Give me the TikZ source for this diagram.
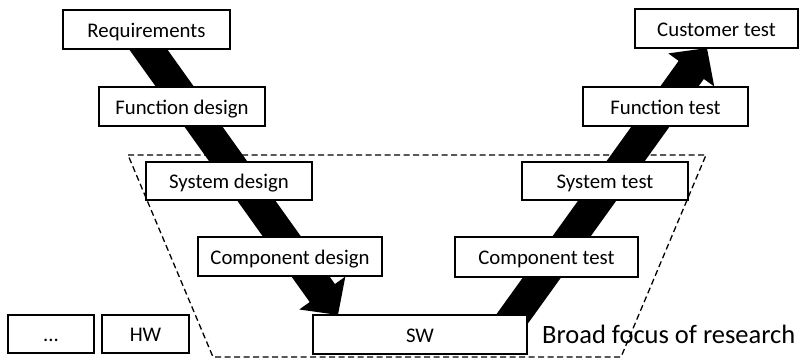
\documentclass[tikz,border=0pt]{standalone}
\usepackage{fontspec}
\setmainfont{Carlito}
\usetikzlibrary{arrows.meta}
\begin{document}
\begin{tikzpicture}[x=1pt,y=-1pt,
  stage/.style={draw, fill=white, line width=1.4pt, inner sep=0pt,
    font=\fontsize{20.8}{24}\selectfont, text height=15.5pt, text depth=0pt},
  flow/.style={line width=31pt, -{Triangle[length=27pt,width=55pt]}},
  focus/.style={dashed, dash pattern=on 6pt off 3.5pt, line width=1.3pt}]
\useasboundingbox (0,0) rectangle (799,359);

% end points of the two thick flow arrows
\coordinate (downstart) at (134.4,30);
\coordinate (downend) at (338,315);
\coordinate (upstart) at (501.3,334);
\coordinate (upend) at (707,48);

\draw[flow] (downstart) -- (downend);
\draw[flow] (upstart) -- (upend);

% design side
\node[stage, minimum width=167pt, minimum height=39pt] (req) at (146.5,29.5) {Requirements};
\node[stage, minimum width=166pt, minimum height=39pt] (fd) at (182,106.5) {Function design};
\node[stage, minimum width=166pt, minimum height=38pt] (sd) at (229,181) {System design};
\node[stage, minimum width=184pt, minimum height=39pt] (cd) at (290,256.5) {Component design};

% implementation
\node[stage, minimum width=214pt, minimum height=39pt] (sw) at (420,334.5) {SW};
\node[stage, minimum width=86pt, minimum height=38pt] (dots) at (51,334) {...};
\node[stage, minimum width=87pt, minimum height=38pt] (hw) at (145.5,334) {HW};

% test side
\node[stage, minimum width=163pt, minimum height=39pt] (ct) at (716.5,28.5) {Customer test};
\node[stage, minimum width=165pt, minimum height=39pt] (ft) at (665.5,106.5) {Function test};
\node[stage, minimum width=166pt, minimum height=38pt] (st) at (605,181) {System test};
\node[stage, minimum width=183pt, minimum height=40pt] (cpt) at (546.5,257) {Component test};

% region of interest
\coordinate (tl) at (128,155);
\coordinate (tr) at (706,155);
\coordinate (br) at (621,357);
\coordinate (bl) at (213,357);
\draw[focus] (tl) -- (tr) -- (br) -- (bl) -- cycle;

\node[anchor=base west, inner sep=0pt, font=\fontsize{26.5}{30}\selectfont] (lbl) at (542,343) {Broad focus of research};
\end{tikzpicture}
\end{document}
